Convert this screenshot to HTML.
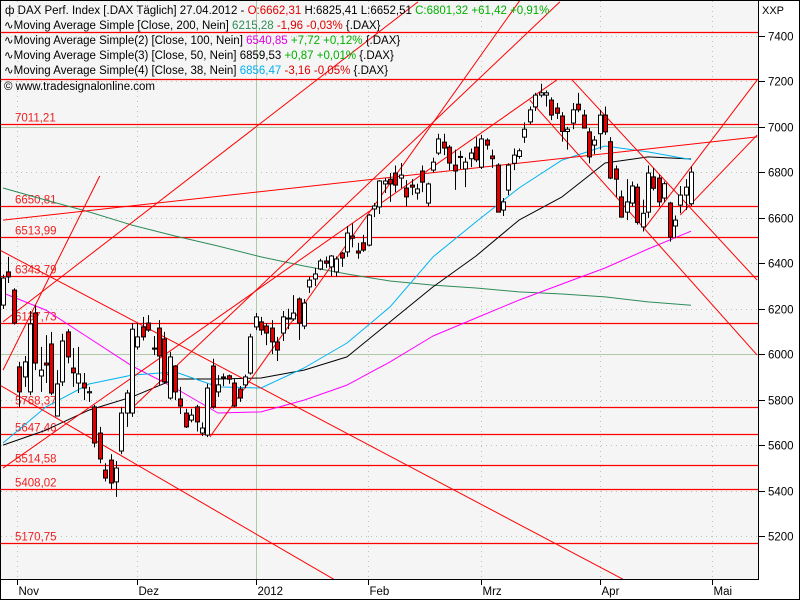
<!DOCTYPE html>
<html><head><meta charset="utf-8"><style>
html,body{margin:0;padding:0;background:#fff;overflow:hidden;width:800px;height:600px;}
svg{display:block;font-family:"Liberation Sans",Tahoma,sans-serif;}
</style></head><body>
<svg id="chart" width="800" height="600" xmlns="http://www.w3.org/2000/svg">
<defs><clipPath id="pc"><rect x="1" y="1" width="757" height="578"/></clipPath></defs>
<rect x="0" y="0" width="800" height="600" fill="#fff"/>
<rect x="1" y="1" width="757" height="578" fill="#f5f5f5"/>
<g id="grid"></g>
<g id="levels" clip-path="url(#pc)"></g>
<g id="ma" clip-path="url(#pc)"></g>
<g id="trend" clip-path="url(#pc)"></g>
<g id="candles" clip-path="url(#pc)"></g>
<g id="axes"></g>
<g font-size="11.5">
<text x="5" y="14"><tspan>ф DAX Perf. Index [.DAX  Täglich] 27.04.2012 - </tspan><tspan fill="#e00000">O:6662,31</tspan><tspan> H:6825,41 L:6652,51 </tspan><tspan fill="#00b000">C:6801,32 +61,42 +0,91%</tspan></text>
<text x="4" y="29">∿Moving Average Simple [Close, 200, Nein] <tspan fill="#2e8b57">6215,28</tspan> <tspan fill="#e00000">-1,96 -0,03%</tspan> {.DAX}</text>
<text x="4" y="44">∿Moving Average Simple(2) [Close, 100, Nein] <tspan fill="#e000e0">6540,85</tspan> <tspan fill="#00b000">+7,72 +0,12%</tspan> {.DAX}</text>
<text x="4" y="59">∿Moving Average Simple(3) [Close, 50, Nein] 6859,53 <tspan fill="#00b000">+0,87 +0,01%</tspan> {.DAX}</text>
<text x="4" y="74">∿Moving Average Simple(4) [Close, 38, Nein] <tspan fill="#00b0f0">6856,47</tspan> <tspan fill="#e00000">-3,16 -0,05%</tspan> {.DAX}</text>
<text x="4" y="90">© www.tradesignalonline.com</text>
</g>
<text x="762" y="14" font-size="11">XXP</text>
<rect x="0.5" y="0.5" width="799" height="599" fill="none" stroke="#000"/>
</svg>
<script>
const opens=[6216,6362,6282,5944,5900,5834,6181,5904,5961,6045,5728,5878,6098,5939,5873,5873,5830,5768,5653,5490,5534,5438,5574,5741,5741,6032,6120,6137,6027,6115,6067,5807,5948,5803,5741,5710,5768,5653,5644,5948,5834,5900,5905,5873,5847,5865,5917,6120,6142,6124,6115,6054,6093,6155,6155,6243,6124,6296,6331,6375,6410,6384,6362,6445,6450,6520,6454,6490,6480,6639,6648,6749,6770,6797,6775,6731,6744,6709,6806,6665,6810,6885,6933,6911,6832,6870,6815,6860,6911,6823,6942,6872,6832,6634,6722,6840,6870,6955,7022,7088,7140,7140,7118,7083,7048,6980,7017,7100,7052,6978,6920,6970,7052,6935,6815,6692,6625,6665,6735,6560,6625,6780,6775,6687,6665,6564,6656,6700,6662];
const highs=[6350,6428,6290,5966,5992,6190,6216,6032,6084,6098,5930,6090,6110,6027,6032,5917,5856,5777,5680,5520,5560,5530,5768,5843,6137,6137,6164,6172,6080,6150,6098,6010,5952,5856,5760,5760,5777,5700,5870,5980,5908,5915,5910,5890,5860,5910,6090,6181,6164,6137,6150,6076,6190,6200,6260,6250,6243,6340,6380,6420,6430,6436,6430,6450,6564,6575,6490,6525,6617,6665,6766,6775,6797,6830,6841,6766,6770,6750,6830,6755,6865,6970,6970,6920,6900,6895,6865,6905,6955,6965,6950,6900,6840,6687,6840,6905,6905,7020,7090,7150,7190,7160,7130,7105,7065,7000,7105,7150,7075,6995,6960,7075,7090,6955,6830,6720,6770,6760,6750,6680,6830,6820,6790,6760,6670,6610,6740,6770,6825];
const lows=[6199,6313,6130,5768,5856,5820,5930,5834,5873,5820,5728,5860,5960,5856,5829,5798,5790,5590,5520,5440,5407,5372,5560,5680,5724,6020,6060,6098,5996,5865,5870,5800,5798,5737,5675,5700,5660,5640,5635,5760,5812,5860,5870,5766,5790,5850,5910,6106,6084,6040,6000,5970,6058,6110,6146,6063,6110,6270,6300,6370,6380,6344,6340,6384,6428,6470,6420,6450,6475,6603,6617,6709,6670,6713,6731,6648,6700,6680,6713,6648,6800,6876,6876,6810,6723,6815,6735,6823,6845,6815,6900,6820,6625,6608,6700,6810,6860,6930,7010,7070,7130,7090,7030,7035,6935,6900,6990,7065,6995,6840,6880,6900,6965,6770,6692,6603,6590,6650,6570,6540,6600,6720,6650,6670,6495,6510,6620,6634,6652];
const closes=[6335,6340,6137,5834,5966,6133,5961,5930,5952,5829,5869,6058,5988,5918,5913,5851,5835,5609,5539,5455,5433,5499,5741,5829,6110,6076,6076,6106,6022,5992,5878,5988,5834,5772,5680,5732,5702,5675,5851,5768,5865,5895,5890,5772,5807,5900,6076,6164,6106,6093,6054,6018,6164,6159,6181,6137,6225,6326,6353,6410,6400,6432,6419,6423,6533,6510,6445,6458,6612,6652,6762,6762,6749,6744,6788,6692,6735,6727,6757,6749,6845,6947,6907,6841,6806,6867,6845,6885,6855,6947,6920,6860,6625,6670,6832,6876,6895,6990,7075,7140,7150,7150,7052,7060,6980,6990,7075,7075,6995,6868,6942,7052,6978,6775,6770,6603,6670,6740,6580,6620,6797,6730,6670,6750,6515,6590,6700,6735,6801];
const maIndex=[0,8,16,24,32,40,48,56,64,72,80,88,96,104,112,120,128];
const ma38=[5609,5768,5869,5908,5922,5856,5851,5939,6049,6208,6428,6582,6731,6854,6916,6890,6856];
const ma50=[5600,5666,5754,5812,5891,5891,5895,5930,5988,6142,6296,6432,6590,6692,6841,6868,6859];
const ma100=[6269,6194,6071,5948,5851,5741,5746,5798,5864,5966,6080,6159,6238,6309,6379,6463,6541];
const ma200=[6731,6678,6626,6568,6520,6476,6428,6388,6353,6322,6304,6291,6274,6265,6252,6230,6215];
const levelValues=[7419,7211.5,7011.21,6650.81,6513.99,6343.79,6137.73,5768.37,5647.46,5514.58,5408.02,5170.75];
const levelLabels=["","","7011,21","6650,81","6513,99","6343,79","6137,73","5768,37","5647,46","5514,58","5408,02","5170,75"];
const trendStartIdx=[0,0,0,23.6,38.5,0,-0.6,-0.6,105.9,98,119.4,126];
const trendStartVal=[5930,6142,5499,5754,5636,6590,6458,5864,7206,7118,6555,6612];
const trendEndIdx=[18,77.2,103,103.6,96.2,140.3,140.3,61.8,140.3,140.3,140.3,140.3];
const trendEndVal=[6784,7550,7206,7550,7558,6956,4698,5006,6326,5996,7206,6964];
const yTicks=[5200,5400,5600,5800,6000,6200,6400,6600,6800,7000,7200,7400];
const monthLabels=["Nov","Dez","2012","Feb","Mrz","Apr","Mai"];
const monthIdx=[2.6,24.9,47.07,67.9,88.9,111.07,131.9];

const NS="http://www.w3.org/2000/svg";
const X=i=>3+i*5.375;
const Y=v=>36+(7400-v)*500/2200;
function mk(tag,attrs,parent){const e=document.createElementNS(NS,tag);for(const k in attrs)e.setAttribute(k,attrs[k]);parent.appendChild(e);return e;}
const grid=document.getElementById('grid'),levels=document.getElementById('levels'),maG=document.getElementById('ma'),trend=document.getElementById('trend'),cg=document.getElementById('candles'),axes=document.getElementById('axes');

yTicks.forEach(v=>{
  const y=Math.round(Y(v))+0.5;
  const solid=(v===7000||v===6000);
  const g=mk('line',{x1:1,x2:758,y1:y,y2:y,stroke:solid?'#b0c8a8':'#b8c4b8','stroke-dasharray':solid?'':'1,4'},grid);
  
  
  const t=mk('line',{x1:759,x2:765,y1:y,y2:y,stroke:'#000'},axes);
  
  
  const l=mk('text',{x:768,y:y+4,'font-size':11.5},axes);l.textContent=v;
  
  
});
monthLabels.forEach((m,k)=>{
  const x=Math.round(X(monthIdx[k]))+0.5;
  const solid=(m==="2012");
  const g=mk('line',{x1:x,x2:x,y1:1,y2:579,stroke:solid?'#b0c8a8':'#b8c4b8','stroke-dasharray':solid?'':'1,4'},grid);
  
  
  const t=mk('line',{x1:x,x2:x,y1:579,y2:585,stroke:'#000'},axes);
  
  
  const l=mk('text',{x:x+1,y:595,'font-size':11.5},axes);l.textContent=m;
  
  
});
const ax=mk('path',{d:'M758.5,1 V579.5 H1',fill:'none',stroke:'#000'},axes);



levelValues.forEach((v,k)=>{
  const y=Math.round(Y(v))+0.5;
  const l=mk('line',{x1:1,x2:758,y1:y,y2:y,stroke:'#f00','stroke-width':1.3},levels);
  
  
  if(levelLabels[k]){
    const t=mk('text',{x:15,y:y-3,'font-size':11.5,fill:'#f02020'},levels);t.textContent=levelLabels[k];
    
    
  }
});

trendStartIdx.forEach((s,k)=>{
  const l=mk('line',{x1:X(s),y1:Y(trendStartVal[k]),x2:X(trendEndIdx[k]),y2:Y(trendEndVal[k]),stroke:'#f00','stroke-width':1},trend);
  
  
});

[[ma200,'#2e8b57','ma200-line'],[ma100,'#ff00ff','ma100-line'],[ma50,'#000','ma50-line'],[ma38,'#00b4f0','ma38-line']].forEach(([arr,col,name])=>{
  const pts=arr.map((v,k)=>X(maIndex[k]).toFixed(1)+','+Y(v).toFixed(1)).join(' ');
  const p=mk('polyline',{points:pts,fill:'none',stroke:col,'stroke-width':1,'stroke-linejoin':'round'},maG);
  
  
});

opens.forEach((o,i)=>{
  const c=closes[i],x=Math.round(X(i));
  const g=mk('g',{},cg);
  
  
  mk('line',{x1:x+0.5,x2:x+0.5,y1:Y(highs[i]),y2:Y(lows[i]),stroke:'#000'},g);
  const top=Y(Math.max(o,c)),bot=Y(Math.min(o,c));
  mk('rect',{x:x-1.5,y:top,width:4,height:Math.max(1,bot-top),fill:c>=o?'#fff':'#e00000',stroke:'#000','stroke-width':1},g);
});
</script>
</body></html>
